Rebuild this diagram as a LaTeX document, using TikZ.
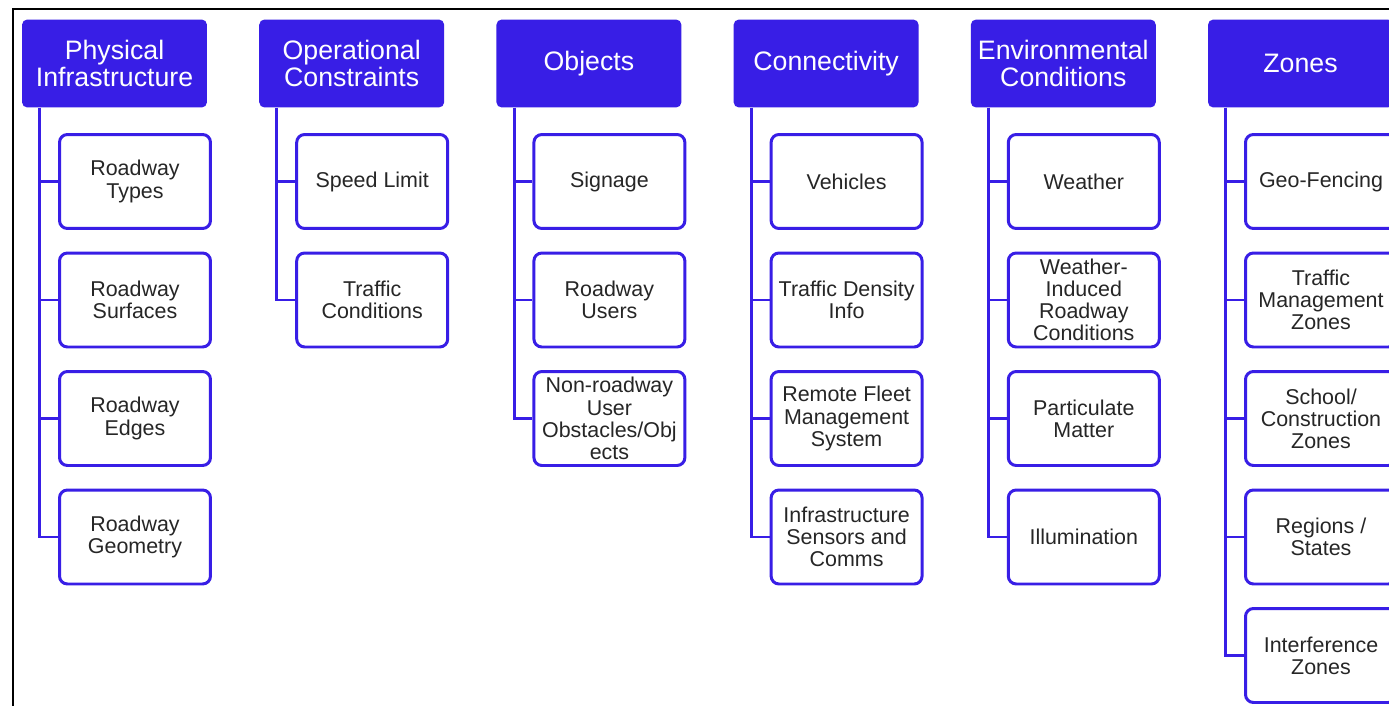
\documentclass[tikz,border=0pt]{standalone}
\usepackage{fontspec}
\setmainfont{Liberation Sans}
\usetikzlibrary{calc}
\definecolor{blue@cat}{RGB}{56, 30, 230}
\definecolor{gray@txt}{RGB}{38, 38, 38}

\begin{document}
\begin{tikzpicture}[x=0.02cm, y=-0.02cm]
  \tikzstyle{category}=[fill=blue@cat, text=white, rounded corners=3pt, minimum width=3.7cm,
                        minimum height=1.76cm, inner sep=0pt, align=center,
                        font=\fontsize{15.2}{15.3}\selectfont]
  \tikzstyle{item}=[draw=blue@cat, line width=1.7pt, rounded corners=4.5pt, fill=white, text=gray@txt,
                    minimum width=3.02cm, minimum height=1.88cm, inner sep=0pt, align=center,
                    font=\fontsize{12.2}{12.6}\selectfont]
  \tikzstyle{branch}=[draw, blue@cat, line width=1.7pt]

  % constants (px)
  \def \ColDist {237.2}
  \def \RowDist {118.5}

  \useasboundingbox (0,0) rectangle (1389,706);
  \clip (0,0) rectangle (1389,706);
  \fill[white] (0,0) rectangle (1389,706);

  % outer frame, only left and top edges show
  \draw[black, line width=1.5pt] (13,720) -- (13,9) -- (1400,9);

  % Draw the categories
  \foreach \col/\name/\txt in
      {
        0/phys/{Physical\\Infrastructure},
        1/oper/{Operational\\Constraints},
        2/objs/{Objects},
        3/conn/{Connectivity},
        4/env/{Environmental\\Conditions},
        5/zones/{Zones}%
      }
      {
      \node[category] (\name) at (114.5+\ColDist*\col, 63.5) {\txt};
      \coordinate (\name-t) at ([xshift=0.36cm]\name.south west); % top of the trunk
      }

  % Draw the items
  \foreach \col/\row/\name/\txt in
      {
        0/0/types/{Roadway\\Types},
        0/1/surfaces/{Roadway\\Surfaces},
        0/2/edges/{Roadway\\Edges},
        0/3/geometry/{Roadway\\Geometry},
        1/0/speed/{Speed Limit},
        1/1/traffic/{Traffic\\Conditions},
        2/0/signage/{Signage},
        2/1/users/{Roadway\\Users},
        2/2/obstacles/{Non-roadway\\User\\Obstacles/Obj\\ects},
        3/0/vehicles/{Vehicles},
        3/1/density/{Traffic Density\\Info},
        3/2/fleet/{Remote Fleet\\Management\\System},
        3/3/sensors/{Infrastructure\\Sensors and\\Comms},
        4/0/weather/{Weather},
        4/1/induced/{Weather-\\Induced\\Roadway\\Conditions},
        4/2/particulate/{Particulate\\Matter},
        4/3/illumination/{Illumination},
        5/0/geofence/{Geo-Fencing},
        5/1/tmz/{Traffic\\Management\\Zones},
        5/2/school/{School/\\Construction\\Zones},
        5/3/regions/{Regions /\\States},
        5/4/interference/{Interference\\Zones}%
      }
      \node[item] (\name) at (135+\ColDist*\col, 181.5+\RowDist*\row) {\txt};

  % Connect categories with items
  \foreach \source/ \dest in
    {
      phys/types, phys/surfaces, phys/edges, phys/geometry,
      oper/speed, oper/traffic,
      objs/signage, objs/users, objs/obstacles,
      conn/vehicles, conn/density, conn/fleet, conn/sensors,
      env/weather, env/induced, env/particulate, env/illumination,
      zones/geofence, zones/tmz, zones/school, zones/regions, zones/interference%
    }
    \path[branch] (\source-t) |- (\dest.west);

\end{tikzpicture}
\end{document}
